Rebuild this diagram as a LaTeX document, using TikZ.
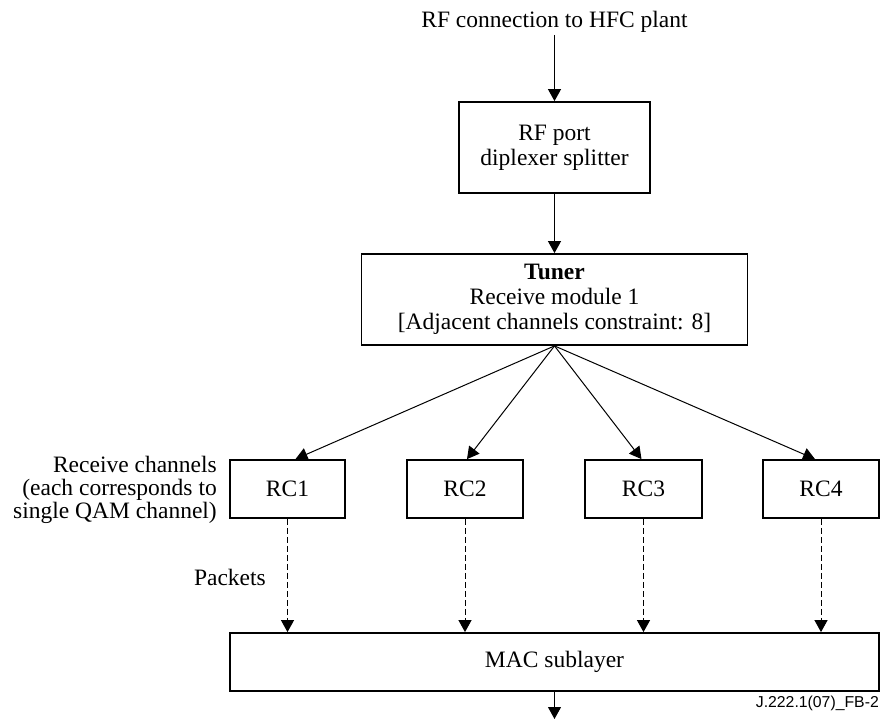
\documentclass[tikz,border=0pt]{standalone}
\usepackage{fontspec}
\setmainfont{Liberation Serif}
\newfontfamily\figsans{Liberation Sans}
\usetikzlibrary{arrows.meta,positioning}
\tikzset{
  box/.style={draw, line width=1.8pt, align=center, inner sep=2pt,
              font=\fontsize{23.5}{25}\selectfont},
  plain/.style={align=center, inner sep=2pt, font=\fontsize{23.5}{25}\selectfont},
  arrow/.style={-{Triangle[length=12pt,width=13pt]}, line width=1pt},
  dasharrow/.style={arrow, dash pattern=on 6pt off 3pt}
}
\begin{document}
\begin{tikzpicture}[x=1pt, y=-1pt]
\useasboundingbox (0,0) rectangle (881,720);
\node[plain] (hfc) at (554.5,22) {RF connection to HFC plant};
\node[box, minimum width=191pt, minimum height=91pt] (rfport) at (554.5,147.5)
  {RF port\\diplexer splitter};
\node[box, minimum width=386pt, minimum height=91pt] (tuner) at (554.5,299.5)
  {\textbf{Tuner}\\Receive module 1\\{[Adjacent channels constraint: 8]}};
\node[box, minimum width=115pt, minimum height=58pt] (rc1) at (287.5,489) {RC1};
\node[box, minimum width=116pt, minimum height=58pt] (rc2) at (465,489) {RC2};
\node[box, minimum width=117pt, minimum height=58pt] (rc3) at (643.5,489) {RC3};
\node[box, minimum width=116pt, minimum height=58pt] (rc4) at (821,489) {RC4};
\node[box, minimum width=649pt, minimum height=58pt] (mac) at (554.5,662) {MAC sublayer};
\coordinate (out) at (554.5,719);
% labels
\node[plain, align=right, anchor=east, font=\fontsize{23.5}{23}\selectfont] (rclabel)
  at (219,490) {Receive channels\\(each corresponds to\\single QAM channel)};
\node[plain, anchor=east] (packets) at (268,577) {Packets};
\node[anchor=south east, inner sep=0pt, font=\figsans\fontsize{15.8}{17}\selectfont] (figid)
  at (879,711) {J.222.1(07)\_FB-2};
% connectors
\draw[arrow] (hfc) -- (rfport);
\draw[arrow] (rfport) -- (tuner);
\draw[arrow] (tuner.south) -- ([xshift=8pt]rc1.north);
\draw[arrow] (tuner.south) -- ([xshift=2pt]rc2.north);
\draw[arrow] (tuner.south) -- ([xshift=-2pt]rc3.north);
\draw[arrow] (tuner.south) -- ([xshift=-6pt]rc4.north);
\draw[dasharrow] (rc1) -- (rc1 |- mac.north);
\draw[dasharrow] (rc2) -- (rc2 |- mac.north);
\draw[dasharrow] (rc3) -- (rc3 |- mac.north);
\draw[dasharrow] (rc4) -- (rc4 |- mac.north);
\draw[arrow] (mac) -- (out);
\end{tikzpicture}
\end{document}
